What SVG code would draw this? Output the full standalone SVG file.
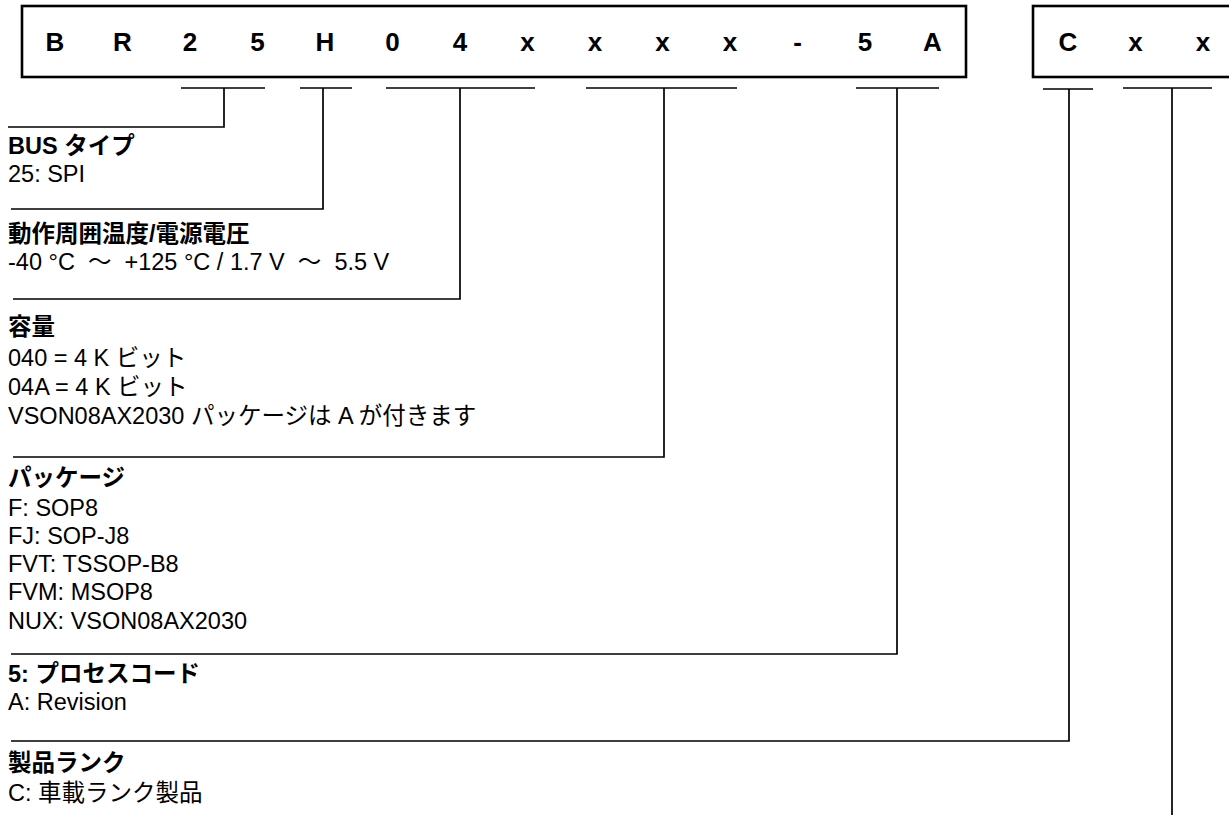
<svg xmlns="http://www.w3.org/2000/svg" width="1229" height="821" viewBox="0 0 1229 821">
<style>
.box{fill:none;stroke:#000;stroke-width:2.6}
.code{font-family:"Liberation Sans","Noto Sans CJK JP",sans-serif;font-weight:bold;font-size:26px;text-anchor:middle;fill:#000}
.ln{fill:none;stroke:#000;stroke-width:1.7}
.h{font-family:"Liberation Sans","Noto Sans CJK JP",sans-serif;font-weight:bold;font-size:23.5px;fill:#000;white-space:pre}
.b{font-family:"Liberation Sans","Noto Sans CJK JP",sans-serif;font-size:23.5px;fill:#000;white-space:pre}
</style>
<rect width="1229" height="821" fill="#fff"/>
<g id="code-main">
<rect class="box" x="22" y="6" width="944" height="71"/>
<text class="code" y="51"><tspan x="55">B</tspan><tspan x="122.5">R</tspan><tspan x="190">2</tspan><tspan x="257.5">5</tspan><tspan x="325">H</tspan><tspan x="392.5">0</tspan><tspan x="460">4</tspan><tspan x="527.5">x</tspan><tspan x="595">x</tspan><tspan x="662.5">x</tspan><tspan x="730">x</tspan><tspan x="797.5">-</tspan><tspan x="865">5</tspan><tspan x="932.5">A</tspan></text>
</g>
<g id="code-suffix">
<rect class="box" x="1033" y="6" width="260" height="71"/>
<text class="code" y="51"><tspan x="1068">C</tspan><tspan x="1135.5">x</tspan><tspan x="1203">x</tspan></text>
</g>
<g id="connectors">
<path class="ln" d="M181,88H265M224,88V127H8"/>
<path class="ln" d="M300,88H352M323,88V209H11"/>
<path class="ln" d="M386,88H535M460,88V299H13"/>
<path class="ln" d="M586,88H737M664,88V457H13"/>
<path class="ln" d="M856,88H939M897,88V654H11"/>
<path class="ln" d="M1043,89H1093M1069,89V741H11"/>
<path class="ln" d="M1123,88H1212M1172,88V815"/>
</g>
<g id="bus">
<text class="h" x="8" y="154">BUS タイプ</text>
<text class="b" x="8" y="182">25: SPI</text>
</g>
<g id="temp">
<text class="h" x="8" y="242">動作周囲温度/電源電圧</text>
<text class="b" x="8" y="270">-40 °C  ～  +125 °C / 1.7 V  ～  5.5 V</text>
</g>
<g id="capacity">
<text class="h" x="8" y="335">容量</text>
<text class="b" x="8" y="366">040 = 4 K ビット</text>
<text class="b" x="8" y="395">04A = 4 K ビット</text>
<text class="b" x="8" y="424">VSON08AX2030 パッケージは A が付きます</text>
</g>
<g id="package">
<text class="h" x="8" y="486">パッケージ</text>
<text class="b" x="8" y="516">F: SOP8</text>
<text class="b" x="8" y="544">FJ: SOP-J8</text>
<text class="b" x="8" y="572">FVT: TSSOP-B8</text>
<text class="b" x="8" y="600">FVM: MSOP8</text>
<text class="b" x="8" y="629">NUX: VSON08AX2030</text>
</g>
<g id="process">
<text class="h" x="8" y="682">5: プロセスコード</text>
<text class="b" x="8" y="710">A: Revision</text>
</g>
<g id="rank">
<text class="h" x="8" y="771">製品ランク</text>
<text class="b" x="8" y="801">C: 車載ランク製品</text>
</g>
</svg>
